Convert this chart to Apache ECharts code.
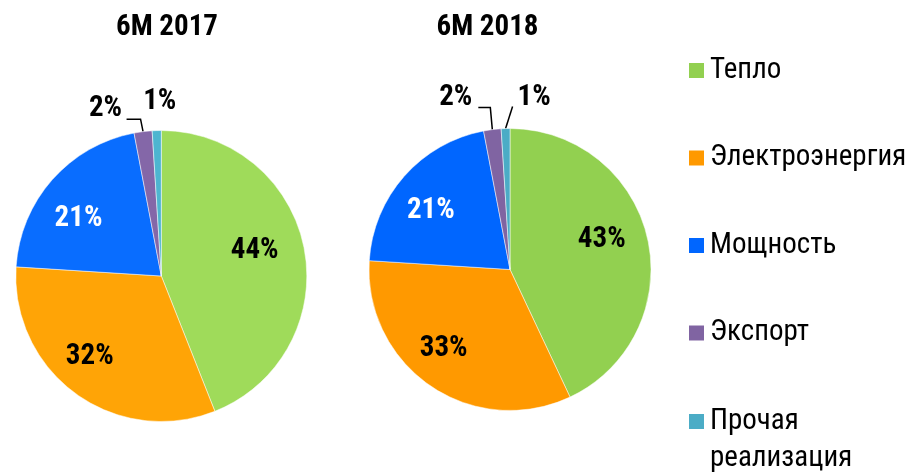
<!DOCTYPE html>
<html>
<head>
<meta charset="utf-8">
<script src="https://cdn.jsdelivr.net/npm/echarts@6/dist/echarts.min.js"></script>
<style>
  html, body { margin: 0; padding: 0; background: #fff; }
  #main { width: 912px; height: 472px; }
</style>
</head>
<body>
<div id="main"></div>
<script>
var categories = ["Тепло", "Электроэнергия", "Мощность", "Экспорт", "Прочая реализация"];
var titles = ["6M 2017", "6M 2018"];
var values2017 = [44, 32, 21, 2, 1];
var values2018 = [43, 33, 21, 2, 1];

var colors2017 = ["#9fdb5a", "#ffa406", "#096dff", "#8467a8", "#4db5d0"];
var colors2018 = ["#92d050", "#ff9900", "#0066ff", "#8064a2", "#4bacc6"];

var font = '"Roboto Condensed", "Open Sans Condensed", "Liberation Sans", sans-serif';

// shift of the big (inside) labels from their default place
var shift2017 = [[19, -11], [-27, 19], [-26, -7]];
var shift2018 = [[20, -14], [-25, 18], [-24, -10]];
// small slices: label and leader line, relative to the point on the slice edge
var outer2017 = [
  { text: [-21, -23], align: "right", line: [[0, 0], [-2.5, -12.5], [-16.5, -12.5]] },
  { text: [3, -29], align: "center", line: null }
];
var outer2018 = [
  { text: [-20, -32], align: "right", line: [[0, 0], [-2, -22], [-14, -22]] },
  { text: [12, -31], align: "left", line: [[0, 0], [7, -22]] }
];

// point on the outer edge, in the middle of slice i
function edgePoint(values, i, center, r) {
  var total = 0, before = 0;
  values.forEach(function (v, k) {
    total += v;
    if (k < i) before += v;
  });
  var a = 2 * Math.PI * (before + values[i] / 2) / total;
  return [center[0] + r * Math.sin(a), center[1] - r * Math.cos(a)];
}

function makePie(values, colors, center, r, shift, outer) {
  return {
    type: "pie",
    center: center,
    radius: r,
    startAngle: 90,
    clockwise: true,
    avoidLabelOverlap: false,
    silent: true,
    itemStyle: { borderColor: "#fff", borderWidth: 0.5 },
    label: {
      fontFamily: font,
      fontSize: 29,
      fontWeight: "bold",
      color: "#000",
      formatter: "{c}%"
    },
    labelLine: { length: 10, length2: 10, smooth: false, lineStyle: { color: "#000", width: 1.5 } },
    labelLayout: function (p) {
      var i = p.dataIndex;
      if (i < 3) return { dx: shift[i][0], dy: shift[i][1] };
      var o = outer[i - 3];
      var a = edgePoint(values, i, center, r);
      var res = { x: a[0] + o.text[0], y: a[1] + o.text[1], align: o.align, verticalAlign: "middle" };
      if (o.line) {
        res.labelLinePoints = o.line.map(function (pt) { return [a[0] + pt[0], a[1] + pt[1]]; });
      }
      return res;
    },
    data: values.map(function (v, i) {
      return {
        name: categories[i],
        value: v,
        itemStyle: { color: colors[i] },
        label: { position: i < 3 ? "inside" : "outside", color: i == 2 ? "#fff" : "#000" },
        labelLine: { show: i >= 3 && outer[i - 3].line != null }
      };
    })
  };
}

var legendText = { fontFamily: font, fontSize: 29, lineHeight: 36, color: "#000" };

var option = {
  animation: false,
  backgroundColor: "#fff",
  graphic: [
    {
      type: "text", x: 167, y: 28,
      style: { text: titles[0], fontFamily: font, fontSize: 29, fontWeight: "bold", fill: "#000",
        align: "center", verticalAlign: "middle", textAlign: "center", textVerticalAlign: "middle" }
    },
    {
      type: "text", x: 487.5, y: 28,
      style: { text: titles[1], fontFamily: font, fontSize: 29, fontWeight: "bold", fill: "#000",
        align: "center", verticalAlign: "middle", textAlign: "center", textVerticalAlign: "middle" }
    }
  ],
  legend: [
    {
      orient: "vertical",
      left: 687,
      top: 52.5,
      padding: 0,
      icon: "rect",
      itemWidth: 17,
      itemHeight: 17,
      itemGap: 51.5,
      selectedMode: false,
      textStyle: legendText,
      data: categories.slice(0, 4).map(function (c, i) {
        return { name: c, itemStyle: { color: colors2018[i] } };
      })
    },
    {
      // empty first line keeps the marker level with "Прочая"
      orient: "vertical",
      left: 687,
      top: 366,
      padding: 0,
      icon: "rect",
      itemWidth: 17,
      itemHeight: 17,
      selectedMode: false,
      formatter: function (name) { return "\n" + name.replace(" ", "\n"); },
      textStyle: Object.assign({}, legendText, { lineHeight: 37 }),
      data: [{ name: categories[4], itemStyle: { color: colors2018[4] } }]
    }
  ],
  series: [
    makePie(values2017, colors2017, [161.3, 276], 145.5, shift2017, outer2017),
    makePie(values2018, colors2018, [510, 269.5], 141, shift2018, outer2018)
  ]
};

var chart = echarts.init(document.getElementById("main"));
chart.setOption(option);
</script>
</body>
</html>
